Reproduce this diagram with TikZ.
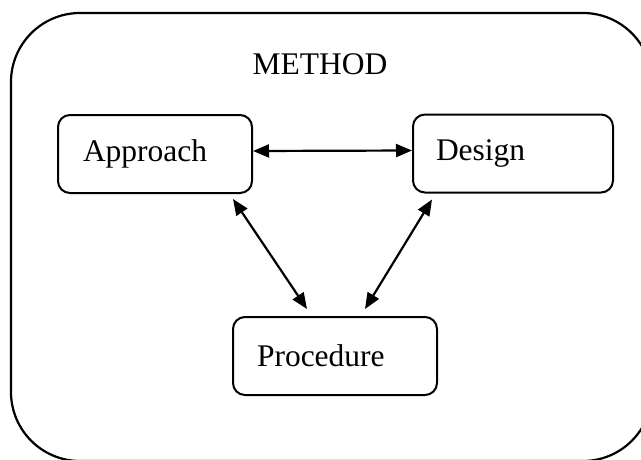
\documentclass[tikz,border=0pt]{standalone}
\usepackage{fontspec}
\setmainfont{Liberation Serif}
\usetikzlibrary{positioning,arrows.meta}

\begin{document}
\begin{tikzpicture}[
    x=1pt, y=-1pt,
    every node/.style={font=\fontsize{31.5}{37}\selectfont},
    stagebox/.style={rectangle, draw, line width=2pt, rounded corners=12pt,
        align=left, minimum height=78pt, inner ysep=0pt},
    link/.style={line width=2.2pt, {Triangle[length=16pt,width=13pt]}-{Triangle[length=16pt,width=13pt]}}
]
\useasboundingbox (0,0) rectangle (641,459);
\clip (0,0) rectangle (641,459);
% outer frame
\draw[line width=2.2pt, rounded corners=69pt] (11,13) rectangle (652,461);
\node (title) at (320,64) {METHOD};

\node[stagebox, inner xsep=25pt, text width=144pt] (approach) at (155,154) {Approach};
\node[stagebox, inner xsep=23pt, text width=154pt] (design) at (513,153.5) {Design};
\node[stagebox, inner xsep=24pt, text width=156pt] (procedure) at (335,356) {Procedure};

\draw[link] ([yshift=3pt]approach.east) -- ([yshift=3pt]design.west);
\draw[link] ([xshift=-20pt,yshift=-5pt]approach.south east) -- ([xshift=-28pt,yshift=7pt]procedure.north);
\draw[link] ([xshift=20pt,yshift=-6pt]design.south west) -- ([xshift=30pt,yshift=7pt]procedure.north);
\end{tikzpicture}
\end{document}
